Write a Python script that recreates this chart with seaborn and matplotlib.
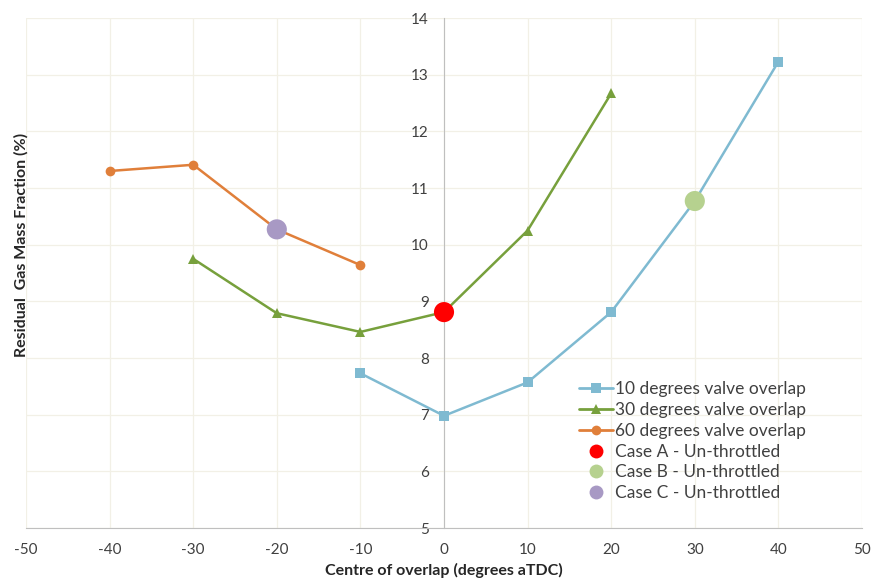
import numpy as np
import pandas as pd
import matplotlib
matplotlib.use("Agg")
import matplotlib.pyplot as plt
import seaborn as sns
from matplotlib.lines import Line2D

# data
x_10 = [-10, 0, 10, 20, 30, 40]
y_10 = [7.73, 6.98, 7.57, 8.81, 10.77, 13.23]
x_30 = [-30, -20, -10, 0, 10, 20]
y_30 = [9.75, 8.79, 8.46, 8.81, 10.25, 12.67]
x_60 = [-40, -30, -20, -10]
y_60 = [11.30, 11.41, 10.27, 9.64]
case_labels = ["Case A - Un-throttled", "Case B - Un-throttled", "Case C - Un-throttled"]
case_x = [0, 30, -20]
case_y = [8.81, 10.77, 10.27]

series_labels = ["10 degrees valve overlap", "30 degrees valve overlap", "60 degrees valve overlap"]
series_colors = ["#7fbad1", "#77a03c", "#e07f3a"]
series_markers = ["s", "^", "o"]
case_colors = ["#ff0000", "#b6d18f", "#a899c4"]

sns.set_style("white")
plt.rcParams["font.family"] = ["Lato", "DejaVu Sans"]
plt.rcParams["axes.unicode_minus"] = False

fig = plt.figure(figsize=(8.75, 5.83), dpi=100)
ax = fig.add_axes([26 / 875, 1 - 528 / 583, (862 - 26) / 875, (528 - 18) / 583])

frames = []
for lab, xs, ys in zip(series_labels, [x_10, x_30, x_60], [y_10, y_30, y_60]):
    frames.append(pd.DataFrame({"x": xs, "y": ys, "series": lab}))
df = pd.concat(frames, ignore_index=True)

sns.lineplot(data=df, x="x", y="y", hue="series", style="series",
             palette=dict(zip(series_labels, series_colors)),
             markers=dict(zip(series_labels, series_markers)),
             dashes=False, markersize=7, markeredgewidth=0, linewidth=1.8,
             ax=ax, legend=False, zorder=3)

cases = pd.DataFrame({"x": case_x, "y": case_y, "case": case_labels})
sns.scatterplot(data=cases, x="x", y="y", hue="case",
                palette=dict(zip(case_labels, case_colors)),
                s=210, linewidth=0, ax=ax, legend=False, zorder=4)

ax.set_xlim(-50, 50)
ax.set_ylim(5, 14)
ax.set_xticks(np.arange(-50, 51, 10))
ax.set_yticks(np.arange(5, 15, 1))
ax.grid(True, color="#f2f0e6", linewidth=0.9)
ax.set_axisbelow(True)

for s in ["top", "right"]:
    ax.spines[s].set_visible(False)
ax.spines["left"].set_position(("data", 0))
ax.spines["left"].set_color("#bfbfbf")
ax.spines["bottom"].set_color("#bfbfbf")
ax.tick_params(axis="both", which="both", direction="out", length=5, color="#bfbfbf",
               labelsize=11, labelcolor="#404040", pad=6)
ax.set_xlabel("Centre of overlap (degrees aTDC)", fontsize=11.5, fontweight="bold", labelpad=4)
ax.set_ylabel("")
fig.text(21 / 875, 1 - 245 / 583, "Residual  Gas Mass Fraction (%)", rotation=90,
         fontsize=11.5, fontweight="bold", ha="center", va="center")

# legend
handles = [Line2D([], [], color=c, marker=m, markersize=7, markeredgewidth=0, linewidth=2)
           for c, m in zip(series_colors, series_markers)]
handles += [Line2D([], [], color=c, marker="o", markersize=10, markeredgewidth=0, linestyle="none")
            for c in case_colors]
ax.legend(handles, series_labels + case_labels, loc="lower left",
          bbox_to_anchor=((570 - 26) / (862 - 26), (528 - 510) / (528 - 18)),
          frameon=False, fontsize=12.5, handlelength=2.0, handletextpad=0.1,
          labelspacing=0.28, borderpad=0, labelcolor="#404040")

fig.savefig("out.png", dpi=100)
